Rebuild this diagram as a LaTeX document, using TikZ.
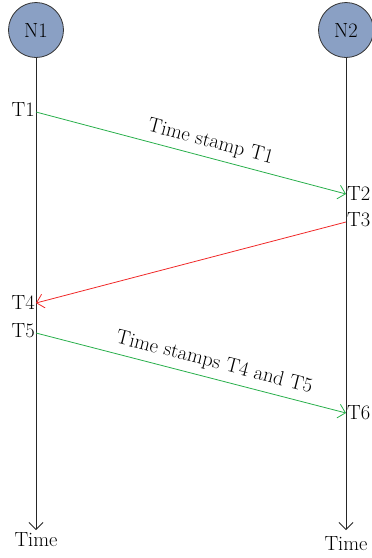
\documentclass[tikz,border=0pt]{standalone}
\usepackage{xcolor}
\usepackage{tikz}
\usetikzlibrary{arrows.meta,positioning,calc}
\definecolor{nodeblue}{RGB}{138,160,196}
\definecolor{msggreen}{RGB}{40,175,75}
\definecolor{msgred}{RGB}{240,40,40}
\tikzset{
  tsnode/.style={
    circle, draw=black!80, fill=nodeblue, line width=0.8pt,
    minimum size=55pt, inner sep=0pt, font=\fontsize{20.5}{22}\selectfont
  },
  tslabel/.style={font=\fontsize{20.5}{22}\selectfont, inner sep=1pt},
  timeline/.style={-{Straight Barb[length=7pt,width=14pt]}, line width=0.8pt, draw=black!85},
  msgarrow/.style={-{Straight Barb[length=7pt,width=14pt]}, line width=0.8pt},
  msglabel/.style={font=\fontsize{20.5}{22}\selectfont, sloped, above, inner sep=6pt},
}

\begin{document}
\begin{tikzpicture}[x=1pt, y=-1pt]
  \useasboundingbox (0,0) rectangle (372,558);
  \node (n1) [tsnode] at (36,30) {N1};
  \node (n2) [tsnode] at (346,30) {N2};
  \coordinate (e1) at (36,530);
  \coordinate (e2) at (346,530);
  \draw[timeline] (n1)--(e1);
  \draw[timeline] (n2)--(e2);
  \node (time1) [tslabel, below=1pt of e1] {Time};
  \node (time2) [tslabel, below=5pt of e2] {Time};
  % time stamp points
  \coordinate (t1) at (36,112);
  \coordinate (t2) at (346,194);
  \coordinate (t3) at (346,222);
  \coordinate (t4) at (36,303);
  \coordinate (t5) at (36,333);
  \coordinate (t6) at (346,413);
  \node (l1) [tslabel, left=0pt of t1, yshift=2pt] {T1};
  \node (l2) [tslabel, right=0pt of t2] {T2};
  \node (l3) [tslabel, right=0pt of t3, yshift=2pt] {T3};
  \node (l4) [tslabel, left=0pt of t4] {T4};
  \node (l5) [tslabel, left=0pt of t5, yshift=2pt] {T5};
  \node (l6) [tslabel, right=0pt of t6] {T6};
  % messages
  \draw[msgarrow, draw=msggreen] (t1)--(t2) node[msglabel, midway, xshift=16pt] {Time stamp T1};
  \draw[msgarrow, draw=msgred] (t3)--(t4);
  \draw[msgarrow, draw=msggreen] (t5)--(t6) node[msglabel, midway, xshift=20pt] {Time stamps T4 and T5};
\end{tikzpicture}
\end{document}
